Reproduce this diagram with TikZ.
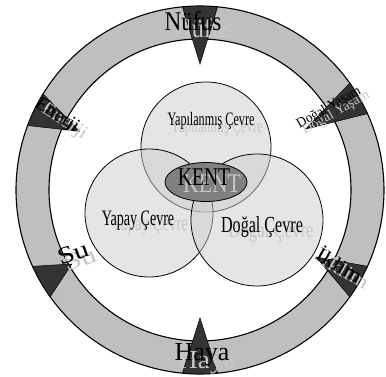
\documentclass[tikz,border=0pt]{standalone}
\usepackage{graphicx}
\usepackage{fontspec}
\usetikzlibrary{shapes.geometric}
\setmainfont{Liberation Serif}
\newcommand\txt[3]{\fontsize{#1}{#1}\selectfont\scalebox{#2}[1]{#3}}
\tikzset{
  lbl/.style={inner sep=0pt, anchor=base},
  shad/.style={inner sep=0pt, anchor=base, text=black!22},
  rlbl/.style={inner sep=0pt, anchor=center},
  rshad/.style={inner sep=0pt, anchor=center, text=black!22},
  ring/.style={line width=1.1pt},
  arrowshape/.style={fill=black!80, draw=black, line width=0.5pt},
  venn/.style={fill=black!20, fill opacity=0.5, draw=black, line width=0.8pt},
}
\begin{document}
\begin{tikzpicture}[x=1pt,y=1pt]
\useasboundingbox (0,0) rectangle (386,376);
\coordinate (C) at (200,186);
% ring
\fill[black!25, even odd rule] (C) circle (184) (C) circle (151);
\draw[ring] (C) circle (184);
\draw[ring] (C) circle (151);
% arrows
\foreach \a/\t in {90/126, 270/128, 30/122, 154/134, 210/148, -30/134}{
  \draw[arrowshape, shift={(C)}] (\a-5.5:184) -- (\a:\t) -- (\a+5.5:184)
     arc[start angle=\a+5.5, end angle=\a-5.5, radius=184] -- cycle;
}
% venn circles
\node[venn, circle, minimum size=130pt, inner sep=0pt] (top) at (206,229) {};
\node[venn, circle, minimum size=128pt, inner sep=0pt] (left) at (149,163) {};
\node[venn, circle, minimum size=132pt, inner sep=0pt] (right) at (257,156) {};
\node[ellipse, draw=black, line width=0.8pt, fill=black!50, minimum width=82pt, minimum height=39pt, inner sep=0pt] (kent) at (206,194) {};
% shadows
\node[shad] (nufusS) at (204,339) {\txt{27}{0.9}{Nüfus}};
\node[shad] (havaS) at (207,8) {\txt{26}{1.05}{Haya}};
\node[shad] (yapS) at (217,244) {\txt{19}{0.68}{Yapılanmış Çevre}};
\node[shad] (kentS) at (212,184) {\txt{27}{0.8}{KENT}};
\node[shad] (yapayS) at (150,146) {\txt{22}{0.67}{Yapay Çevre}};
\node[shad] (dogalS) at (271,139) {\txt{23}{0.73}{Doğal Çevre}};
\node[rshad, rotate=30] (dyS) at (336,263) {\txt{14}{1.0}{Doğal Yaşam}};
\node[rshad, rotate=-33] (enS) at (64,254) {\txt{19}{1.1}{Enerji}};
\node[rshad, rotate=20] (suS) at (80,117) {\txt{24}{1.3}{Su}};
\node[rshad, rotate=-30] (ikS) at (346,106) {\txt{20}{1.2}{İklim}};
% labels
\node[lbl] (nufus) at (193,345) {\txt{27}{0.86}{Nüfus}};
\node[lbl] (hava) at (202,16) {\txt{26}{1}{Haya}};
\node[lbl] (yap) at (211,251) {\txt{19}{0.64}{Yapılanmış Çevre}};
\node[lbl] (kentT) at (204,191) {\txt{25.5}{0.77}{KENT}};
\node[lbl] (yapay) at (138,151) {\txt{22}{0.64}{Yapay Çevre}};
\node[lbl] (dogal) at (262,144) {\txt{23}{0.70}{Doğal Çevre}};
\node[rlbl, rotate=30] (dy) at (329,268) {\txt{14}{0.95}{Doğal Yaşam}};
\node[rlbl, rotate=-33] (en) at (57,260) {\txt{19}{1.05}{Enerji}};
\node[rlbl, rotate=20] (su) at (73,123) {\txt{24}{1.25}{Su}};
\node[rlbl, rotate=-30] (ik) at (340,112) {\txt{20}{1.15}{İklim}};
\end{tikzpicture}
\end{document}
